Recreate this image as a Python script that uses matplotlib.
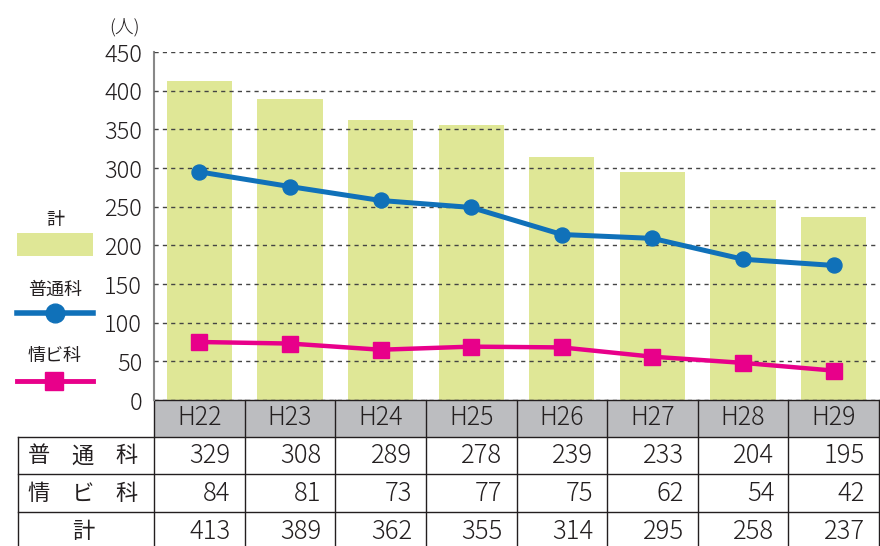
import matplotlib
matplotlib.use('Agg')
import matplotlib.pyplot as plt
from matplotlib.patches import Rectangle
from matplotlib.lines import Line2D

plt.rcParams['font.family'] = ['Noto Sans CJK JP', 'DejaVu Sans']
plt.rcParams['font.weight'] = 'light'

# data
years = ['H22', 'H23', 'H24', 'H25', 'H26', 'H27', 'H28', 'H29']
futsu = [329, 308, 289, 278, 239, 233, 204, 195]
jobi = [84, 81, 73, 77, 75, 62, 54, 42]
total = [413, 389, 362, 355, 314, 295, 258, 237]
# line points as they sit on the graph
futsu_plot = [295, 276, 258, 249, 214, 209, 182, 174]
jobi_plot = [75, 73, 65, 69, 68, 56, 48, 38]
row_labels = ['普通科', '情ビ科', '計']

GREEN = '#dfe796'
BLUE = '#1071b9'
PINK = '#e8008a'
GRAY = '#bcbdc0'
INK = '#231f20'

W, H = 880, 546
fig = plt.figure(figsize=(W / 100, H / 100), dpi=100)
ax = fig.add_axes([154 / W, (H - 400) / H, (879 - 154) / W, 348 / H])

x = list(range(len(years)))
ax.bar(x, total, width=0.72, color=GREEN, zorder=1)
ax.plot(x, futsu_plot, color=BLUE, lw=3.6, marker='o', ms=10.8, zorder=3)
ax.plot(x, jobi_plot, color=PINK, lw=3.2, marker='s', ms=12, zorder=3)

ax.set_xlim(-0.5, 7.5)
ax.set_ylim(0, 450)
ax.set_yticks(range(0, 451, 50))
ax.set_xticks([])
ax.yaxis.grid(True, linestyle=(0, (3, 3)), color='#444444', lw=1)
ax.set_axisbelow(False)
for s in ['top', 'right', 'bottom']:
    ax.spines[s].set_visible(False)
ax.spines['left'].set_color('#888888')
ax.spines['left'].set_linewidth(1.5)
ax.tick_params(axis='y', length=0, pad=8.5, labelsize=17, labelcolor=INK)

fig.text(124 / W, 1 - 27 / H, '(人)', ha='center', va='center', fontsize=13.5, color=INK)

# table under the chart: x in data units, y in pixels converted to axes fraction
tr = ax.get_xaxis_transform()
def fy(p):
    return (400 - p) / 348

row_tops = [437, 474, 512]
row_mid = [456, 494, 532]
ax.add_patch(Rectangle((-0.5, fy(437)), 8, fy(400) - fy(437), transform=tr,
                       facecolor=GRAY, edgecolor='none', clip_on=False))
ax.plot([-0.5, 7.5], [fy(400), fy(400)], transform=tr, color=INK, lw=1, clip_on=False)
for yp in row_tops:
    ax.plot([-2.0, 7.5], [fy(yp), fy(yp)], transform=tr, color=INK, lw=1, clip_on=False)
for k in range(9):
    ax.plot([k - 0.5, k - 0.5], [fy(400), fy(560)], transform=tr, color=INK, lw=1, clip_on=False)
ax.plot([-2.0, -2.0], [fy(437), fy(560)], transform=tr, color=INK, lw=1, clip_on=False)

for i, yr in enumerate(years):
    ax.text(i, fy(418), yr, transform=tr, ha='center', va='center', fontsize=18, color=INK)
for r, vals in enumerate([futsu, jobi, total]):
    for i, v in enumerate(vals):
        ax.text(i + 0.345, fy(row_mid[r]), str(v), transform=tr, ha='right', va='center',
                fontsize=18.5, color=INK)
    lab = row_labels[r]
    if len(lab) == 1:
        ax.text(-1.28, fy(row_mid[r]), lab, transform=tr, ha='center', va='center',
                fontsize=16, color=INK, fontweight='normal')
    else:
        for j, ch in enumerate(lab):
            ax.text(-1.77 + 0.485 * j, fy(row_mid[r]), ch, transform=tr, ha='center',
                    va='center', fontsize=16, color=INK, fontweight='normal')

# legend on the left, in pixel coords
lg = fig.add_axes([0, 0, 1, 1])
lg.set_xlim(0, W)
lg.set_ylim(H, 0)
lg.axis('off')
lg.patch.set_alpha(0)
lg.text(55, 220, '計', ha='center', va='center', fontsize=13, color=INK, fontweight='normal')
lg.add_patch(Rectangle((17, 233), 76, 23, facecolor=GREEN, edgecolor='none'))
lg.text(55, 290, '普通科', ha='center', va='center', fontsize=13, color=INK, fontweight='normal')
lg.add_line(Line2D([17, 93], [313, 313], color=BLUE, lw=4))
lg.plot([55], [313], marker='o', ms=13.5, color=BLUE)
lg.text(55, 356, '情ビ科', ha='center', va='center', fontsize=13, color=INK, fontweight='normal')
lg.add_line(Line2D([17, 93], [381, 381], color=PINK, lw=3.5))
lg.plot([54], [381], marker='s', ms=12.7, color=PINK)

fig.savefig('out.png', dpi=100)
